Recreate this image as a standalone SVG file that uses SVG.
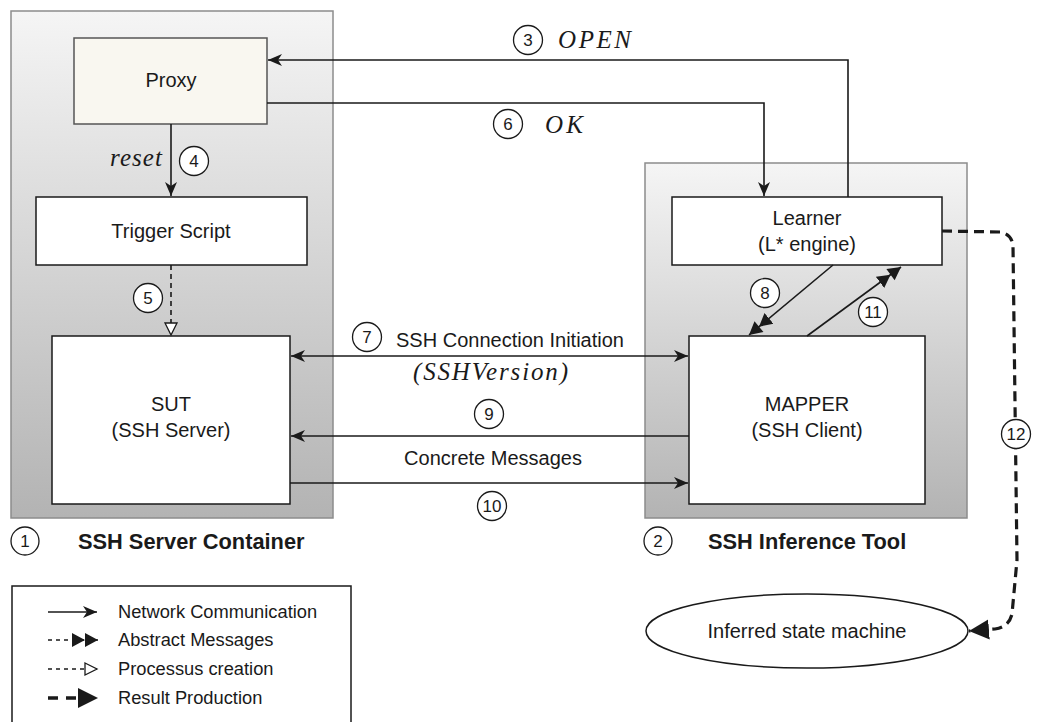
<svg xmlns="http://www.w3.org/2000/svg" width="1064" height="722" viewBox="0 0 1064 722">
<style>
.t{font-family:"Liberation Sans",Arial,sans-serif;font-size:20px;fill:#1a1a1a;text-anchor:middle}
.b{font-family:"Liberation Sans",Arial,sans-serif;font-size:21.8px;font-weight:bold;fill:#1a1a1a}
.lg{font-family:"Liberation Sans",Arial,sans-serif;font-size:18.3px;fill:#1a1a1a}
.n{font-family:"Liberation Sans",Arial,sans-serif;font-size:17px;fill:#1a1a1a;text-anchor:middle}
.m{font-family:"Liberation Serif","Times New Roman",serif;font-style:italic;font-size:25px;fill:#1a1a1a}
.cont{stroke:#8c8c8c;stroke-width:1.5}
.box{fill:#fff;stroke:#1a1a1a;stroke-width:1.5}
.c{fill:#fff;stroke:#1a1a1a;stroke-width:1.3}
.ln{fill:none;stroke:#1a1a1a;stroke-width:1.6}
</style>
<defs>
<linearGradient id="g" x1="0" y1="0" x2="0" y2="1">
<stop offset="0" stop-color="#f5f5f5"/>
<stop offset="1" stop-color="#b3b3b3"/>
</linearGradient>
<marker id="a" markerUnits="userSpaceOnUse" markerWidth="16" markerHeight="14" refX="14" refY="7" orient="auto-start-reverse">
<path d="M0,1 L14,7 L0,13 L4,7 z" fill="#1a1a1a"/>
</marker>
<marker id="dd" markerUnits="userSpaceOnUse" markerWidth="28" markerHeight="16" refX="26" refY="8" orient="auto">
<path d="M0,1 L13,8 L0,15 z M13,1 L26,8 L13,15 z" fill="#1a1a1a"/>
</marker>
<marker id="o" markerUnits="userSpaceOnUse" markerWidth="16" markerHeight="16" refX="13" refY="8" orient="auto">
<path d="M1,2 L13,8 L1,14 z" fill="#fff" stroke="#1a1a1a" stroke-width="1.3"/>
</marker>
<marker id="r" markerUnits="userSpaceOnUse" markerWidth="22" markerHeight="22" refX="20" refY="11" orient="auto">
<path d="M0,1 L20,11 L0,21 z" fill="#1a1a1a"/>
</marker>
</defs>

<g id="server-container">
<rect x="11" y="11" width="322" height="507" fill="url(#g)" class="cont"/>
<circle cx="25" cy="541" r="14" class="c"/>
<text x="25" y="547" class="n">1</text>
<text x="78" y="549" class="b">SSH Server Container</text>
</g>
<g id="inference-container">
<rect x="645" y="163" width="322" height="355" fill="url(#g)" class="cont"/>
<circle cx="658" cy="541" r="14" class="c"/>
<text x="658" y="547" class="n">2</text>
<text x="708" y="549" class="b">SSH Inference Tool</text>
</g>

<g id="proxy">
<rect x="74" y="38" width="193" height="86" fill="#f9f7f0" stroke="#555" stroke-width="1.5"/>
<text x="171" y="87" class="t">Proxy</text>
</g>
<g id="trigger">
<rect x="36" y="197" width="271" height="68" class="box"/>
<text x="171" y="238" class="t">Trigger Script</text>
</g>
<g id="sut">
<rect x="52" y="336" width="238" height="168" class="box"/>
<text x="171" y="411" class="t">SUT</text>
<text x="171" y="437" class="t">(SSH Server)</text>
</g>
<g id="learner">
<rect x="672" y="197" width="270" height="68" class="box"/>
<text x="807" y="225" class="t">Learner</text>
<text x="807" y="251" class="t">(L* engine)</text>
</g>
<g id="mapper">
<rect x="689" y="336" width="236" height="168" class="box"/>
<text x="807" y="411" class="t">MAPPER</text>
<text x="807" y="437" class="t">(SSH Client)</text>
</g>
<g id="state-machine">
<ellipse cx="807" cy="631" rx="161" ry="37" fill="#fff" stroke="#1a1a1a" stroke-width="1.5"/>
<text x="807" y="638" class="t">Inferred state machine</text>
</g>

<g id="connectors">
<path d="M848,197 L848,60 L268,60" class="ln" marker-end="url(#a)"/>
<path d="M267,103 L764,103 L764,196" class="ln" marker-end="url(#a)"/>
<path d="M171,124 L171,196" class="ln" marker-end="url(#a)"/>
<path d="M171,265 L171,335" class="ln" stroke-dasharray="5 4" marker-end="url(#o)"/>
<path d="M291,356 L688,356" class="ln" marker-start="url(#a)" marker-end="url(#a)"/>
<path d="M689,436 L291,436" class="ln" marker-end="url(#a)"/>
<path d="M290,483 L688,483" class="ln" marker-end="url(#a)"/>
<path d="M833,265 L749,335" class="ln" marker-end="url(#dd)"/>
<path d="M807,336 L901,267" class="ln" marker-end="url(#dd)"/>
<path d="M942,231 L1000,232 Q1012,234 1013,246 L1017,560 L1012,614 Q1009,627 995,629 L969,631" fill="none" stroke="#1a1a1a" stroke-width="3.2" stroke-dasharray="10 6" marker-end="url(#r)"/>
</g>

<g id="labels">
<circle cx="528" cy="40" r="14.5" class="c"/><text x="528" y="46" class="n">3</text>
<text x="558" y="48" class="m" textLength="73" lengthAdjust="spacing">OPEN</text>
<circle cx="508" cy="124" r="14.5" class="c"/><text x="508" y="130" class="n">6</text>
<text x="545" y="133" class="m" textLength="38" lengthAdjust="spacing">OK</text>
<text x="110" y="166" class="m" font-size="23" textLength="52" lengthAdjust="spacing">reset</text>
<circle cx="194" cy="161" r="14.5" class="c"/><text x="194" y="167" class="n">4</text>
<circle cx="148" cy="298" r="14.5" class="c"/><text x="148" y="304" class="n">5</text>
<circle cx="367" cy="337" r="14.5" class="c"/><text x="367" y="343" class="n">7</text>
<text x="510" y="347" class="t">SSH Connection Initiation</text>
<text x="413" y="380" class="m" textLength="155" lengthAdjust="spacing">(SSHVersion)</text>
<circle cx="489" cy="414" r="14.5" class="c"/><text x="489" y="420" class="n">9</text>
<text x="493" y="465" class="t">Concrete Messages</text>
<circle cx="492" cy="506" r="14.5" class="c"/><text x="492" y="512" class="n">10</text>
<circle cx="765" cy="293" r="14.5" class="c"/><text x="765" y="299" class="n">8</text>
<circle cx="873" cy="312" r="14.5" class="c"/><text x="873" y="318" class="n">11</text>
<circle cx="1016" cy="434" r="14.5" class="c"/><text x="1016" y="440" class="n">12</text>
</g>

<g id="legend">
<rect x="12" y="586" width="339" height="150" fill="#fff" stroke="#1a1a1a" stroke-width="1.5"/>
<path d="M48,612 L97,612" class="ln" marker-end="url(#a)"/>
<text x="118" y="618" class="lg">Network Communication</text>
<path d="M48,640 L98,640" class="ln" stroke-dasharray="4 4" marker-end="url(#dd)"/>
<text x="118" y="646" class="lg">Abstract Messages</text>
<path d="M48,669 L97,669" class="ln" stroke-dasharray="4 4" marker-end="url(#o)"/>
<text x="118" y="675" class="lg">Processus creation</text>
<path d="M48,698 L98,698" fill="none" stroke="#1a1a1a" stroke-width="3.5" stroke-dasharray="10 8" marker-end="url(#r)"/>
<text x="118" y="704" class="lg">Result Production</text>
</g>
</svg>
